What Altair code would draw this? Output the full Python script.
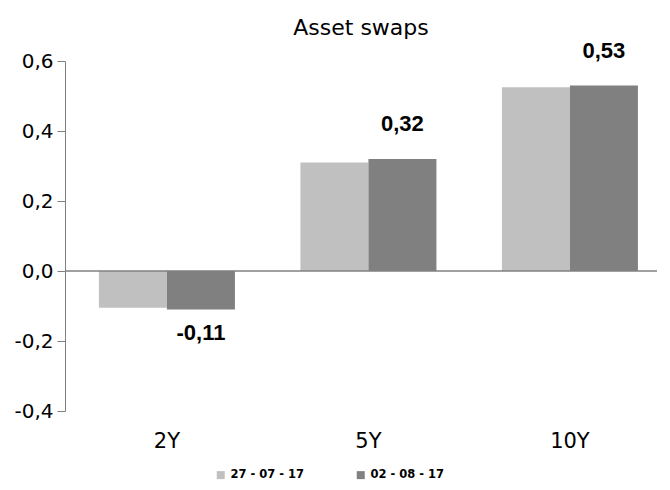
import altair as alt
import pandas as pd

tenors = ["2Y", "5Y", "10Y"]
series = ["27 - 07 - 17", "02 - 08 - 17"]
vals_a = [-0.105, 0.31, 0.525]
vals_b = [-0.11, 0.32, 0.53]
labels_b = ["-0,11", "0,32", "0,53"]

rows = []
for t, a, b, lb in zip(tenors, vals_a, vals_b, labels_b):
    rows.append({"tenor": t, "series": series[0], "value": a, "label": ""})
    rows.append({"tenor": t, "series": series[1], "value": b, "label": lb})
df = pd.DataFrame(rows)

FONT = "DejaVu Sans"
W = 592

xenc = alt.X("tenor:N", sort=tenors, title=None,
             scale=alt.Scale(paddingInner=0.325, paddingOuter=0.1315, align=0.64),
             axis=alt.Axis(domain=False, ticks=False, labelAngle=0, labelFontSize=21,
                           labelFont=FONT, labelColor="black", labelPadding=19))
yenc = alt.Y("value:Q", title=None,
             scale=alt.Scale(domain=[-0.4, 0.6], nice=False),
             axis=alt.Axis(values=[-0.4, -0.2, 0.0, 0.2, 0.4, 0.6], grid=False,
                           labelExpr="replace(replace(format(datum.value, '.1f'), '.', ','), '\u2212', '-')",
                           labelFontSize=20, labelFont=FONT, labelColor="black",
                           domainColor="#808080", tickColor="#808080", tickSize=8,
                           labelPadding=4))

base = alt.Chart(df)

bars = base.mark_bar().encode(
    x=xenc,
    xOffset=alt.XOffset("series:N", sort=series),
    y=yenc,
    color=alt.Color("series:N", sort=series, title=None,
                    scale=alt.Scale(domain=series, range=["#c0c0c0", "#808080"]),
                    legend=alt.Legend(orient="none", legendX=150, legendY=408,
                                      direction="horizontal",
                                      symbolType="square", symbolSize=64,
                                      symbolStrokeWidth=0,
                                      labelFont=FONT, labelFontSize=11.5,
                                      labelFontWeight="bold", labelColor="black",
                                      columnPadding=50)),
)

zero = alt.Chart(pd.DataFrame({"z": [0.0]})).mark_rule(color="#808080", strokeWidth=1.5).encode(
    y=alt.Y("z:Q"), x=alt.value(0), x2=alt.value(W)
)

def label_layer(cond, dy):
    return base.transform_filter(cond).mark_text(
        font="Liberation Sans", fontSize=22, fontWeight="bold",
        baseline="middle", dy=dy, color="black"
    ).encode(
        x=alt.X("tenor:N", sort=tenors),
        xOffset=alt.XOffset("series:N", sort=series),
        y="value:Q",
        text="label:N",
    )

pos_text = label_layer("datum.label != '' && datum.value >= 0", -35)
neg_text = label_layer("datum.label != '' && datum.value < 0", 23)

chart = alt.layer(bars, zero, pos_text, neg_text).properties(
    width=W, height=350,
    padding={"left": 5, "top": 8, "right": 0, "bottom": 0},
    title=alt.TitleParams("Asset swaps", font=FONT, fontSize=22, fontWeight="normal",
                          color="black", offset=0, anchor="middle"),
).configure_view(stroke=None).configure_scale(offsetBandPaddingInner=0)

chart.save("out.html", embed_options={"renderer": "svg", "actions": False})
